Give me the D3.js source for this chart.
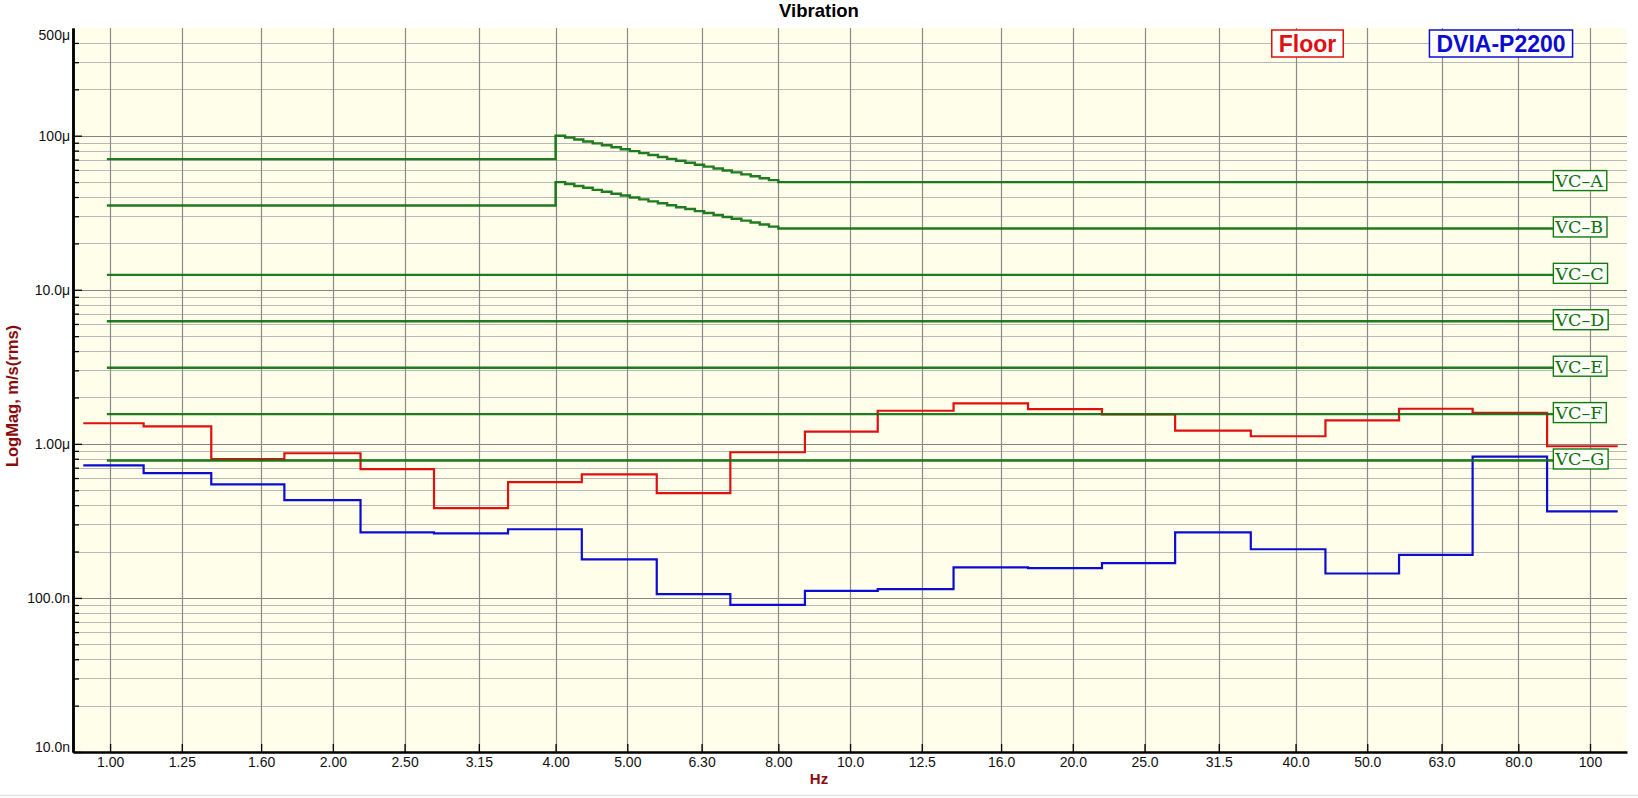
<!DOCTYPE html>
<html>
<head>
<meta charset="utf-8">
<script src="https://cdn.jsdelivr.net/npm/d3@7"></script>
<style>
  body { margin: 0; background: #fff; }
  svg { display: block; font-family: "Liberation Sans", Arial, sans-serif; }
  .axis text { font-size: 14px; fill: #111; }
  .axis path { stroke: #000; stroke-width: 2.5; }
  .axis line { stroke: #000; stroke-width: 1.3; }
  .vc-label { font-family: "DejaVu Serif", serif; font-size: 17.5px; fill: #0f6f0f; }
</style>
</head>
<body>
<svg id="chart" width="1638" height="798"></svg>
<script>
// **** data ****

// 1/3 octave band centres (Hz) and the labels on the axis
var bandFreqs = [1, 1.25, 1.6, 2, 2.5, 3.15, 4, 5, 6.3, 8, 10, 12.5, 16, 20, 25, 31.5, 40, 50, 63, 80, 100];
var bandLabels = ['1.00', '1.25', '1.60', '2.00', '2.50', '3.15', '4.00', '5.00', '6.30', '8.00', '10.0',
    '12.5', '16.0', '20.0', '25.0', '31.5', '40.0', '50.0', '63.0', '80.0', '100'];

// where the measured steps change (Hz), as drawn
var stepEdges = [0.92, 1.11, 1.37, 1.72, 2.18, 2.74, 3.45, 4.34, 5.48, 6.89, 8.69, 10.9,
    13.8, 17.4, 21.9, 27.5, 34.8, 43.9, 55.2, 69.4, 87.5, 109];

// measured levels, um/s rms
var floorVals = [1.36, 1.30, 0.795, 0.869, 0.685, 0.383, 0.564, 0.633, 0.479, 0.882, 1.20,
    1.64, 1.83, 1.68, 1.55, 1.22, 1.12, 1.42, 1.69, 1.59, 0.965];
var dviaVals = [0.724, 0.645, 0.545, 0.431, 0.266, 0.262, 0.279, 0.178, 0.106, 0.0901, 0.111,
    0.114, 0.158, 0.156, 0.168, 0.266, 0.207, 0.144, 0.190, 0.827, 0.364];

// vibration criteria
var vcNames = ['VC\u2013A', 'VC\u2013B', 'VC\u2013C', 'VC\u2013D', 'VC\u2013E', 'VC\u2013F', 'VC\u2013G'];
var vcLevels = [50, 25, 12.5, 6.25, 3.12, 1.56, 0.78];
var vcLow = [70.5, 35.2];   // VC-A, VC-B below 4 Hz
var slopeFreqs = [4.00, 4.12, 4.24, 4.36, 4.49, 4.62, 4.76, 4.90, 5.04, 5.19, 5.34, 5.50, 5.66,
    5.82, 5.99, 6.17, 6.35, 6.54, 6.73, 6.92, 7.13, 7.34, 7.55, 7.77, 8.00];
var vcASlope = [100, 97.2, 94.4, 91.7, 89.1, 86.6, 84.1, 81.7, 79.4, 77.1, 74.9, 72.8, 70.7,
    68.7, 66.7, 64.8, 63.0, 61.2, 59.5, 57.8, 56.1, 54.5, 53.0, 51.5, 50];
var vcBSlope = [50, 48.6, 47.2, 45.9, 44.5, 43.3, 42.0, 40.9, 39.7, 38.6, 37.5, 36.4, 35.4,
    34.3, 33.4, 32.4, 31.5, 30.6, 29.7, 28.9, 28.1, 27.3, 26.5, 25.7, 25];
var vcStart = 0.99, vcEnd = 89.5;

// y ticks
var yTickVals = [500, 100, 10, 1, 0.1, 0.01];
var yTickLabels = ['500\u03bc', '100\u03bc', '10.0\u03bc', '1.00\u03bc', '100.0n', '10.0n'];

// **** scales ****

var plotLeft = 73, plotRight = 1627, plotTop = 28, plotBottom = 752;

var x = d3.scaleLog().domain([0.891, 112.2]).range([plotLeft, plotRight]);
var y = d3.scaleLog().domain([0.01, 500]).range([plotBottom, plotTop]);

var svg = d3.select('#chart');

svg.append('rect')
    .attr('x', plotLeft).attr('y', plotTop)
    .attr('width', plotRight - plotLeft).attr('height', plotBottom - plotTop)
    .style('fill', '#fefeeb');

// bottom window edge
svg.append('line')
    .attr('x1', 0).attr('x2', 1638).attr('y1', 795.5).attr('y2', 795.5)
    .style('stroke', '#e2e2e2').style('stroke-width', 1.5);

// **** grid ****

var allY = y.ticks().filter(function (d) { return d < 500; });
var isDecade = function (d) { return Math.abs(Math.log10(d) - Math.round(Math.log10(d))) < 1e-6; };

svg.append('g').selectAll('line')
    .data(allY).enter()
    .append('line')
    .attr('x1', plotLeft).attr('x2', plotRight)
    .attr('y1', function (d) { return Math.round(y(d)) + 0.5; })
    .attr('y2', function (d) { return Math.round(y(d)) + 0.5; })
    .style('stroke', function (d) { return isDecade(d) ? '#858585' : '#b9b9b9'; })
    .style('stroke-width', 1.2);

svg.append('g').selectAll('line')
    .data(bandFreqs).enter()
    .append('line')
    .attr('x1', function (d) { return Math.round(x(d)) + 0.5; })
    .attr('x2', function (d) { return Math.round(x(d)) + 0.5; })
    .attr('y1', plotTop).attr('y2', plotBottom)
    .style('stroke', '#8a8a8a')
    .style('stroke-width', 1.2);

// **** measured steps ****

function stepPoints(vals) {
    var pts = vals.map(function (v, i) { return [stepEdges[i], v]; });
    pts.push([stepEdges[stepEdges.length - 1], vals[vals.length - 1]]);
    return pts;
}

var line = d3.line()
    .x(function (d) { return x(d[0]); })
    .y(function (d) { return y(d[1]); })
    .curve(d3.curveStepAfter);

svg.append('path')
    .attr('d', line(stepPoints(floorVals)))
    .style('fill', 'none').style('stroke', '#e01010').style('stroke-width', 2.2);

svg.append('path')
    .attr('d', line(stepPoints(dviaVals)))
    .style('fill', 'none').style('stroke', '#0c0cd0').style('stroke-width', 2.2);

// **** VC curves ****

vcLevels.forEach(function (level, i) {
    var pts;
    if (i < 2) {
        var slope = i === 0 ? vcASlope : vcBSlope;
        pts = [[vcStart, vcLow[i]]];
        slopeFreqs.forEach(function (f, k) { pts.push([f, slope[k]]); });
        pts.push([vcEnd, level]);
    } else {
        pts = [[vcStart, level], [vcEnd, level]];
    }
    svg.append('path')
        .attr('d', line(pts))
        .style('fill', 'none').style('stroke', 'rgba(14,112,14,0.92)').style('stroke-width', 2.4);

    var g = svg.append('g')
        .attr('transform', 'translate(' + [x(vcEnd) - 1, y(level) - 1.5] + ')');
    var box = g.append('rect')
        .attr('y', -10).attr('height', 20)
        .style('fill', '#fdfff8').style('stroke', '#137a13').style('stroke-width', 1.4);
    var t = g.append('text')
        .attr('class', 'vc-label')
        .attr('x', 2).attr('y', 6.5)
        .text(vcNames[i]);
    box.attr('width', t.node().getComputedTextLength() + 6);
});

// **** axes ****

svg.append('g').attr('class', 'x axis')
    .attr('transform', 'translate(0,' + plotBottom + ')')
    .call(d3.axisBottom(x).tickValues(bandFreqs)
        .tickFormat(function (d, i) { return bandLabels[i]; })
        .tickSize(-8).tickSizeOuter(0).tickPadding(5));

var minorY = allY.filter(function (d) { return !isDecade(d); });
var majorY = allY.filter(isDecade);

svg.append('g').attr('class', 'y axis')
    .attr('transform', 'translate(' + plotLeft + ',0)')
    .call(d3.axisRight(y).tickValues(minorY).tickFormat('').tickSize(6).tickSizeOuter(0));

svg.append('g').attr('class', 'y axis')
    .attr('transform', 'translate(' + plotLeft + ',0)')
    .call(d3.axisRight(y).tickValues(majorY).tickFormat('').tickSize(9).tickSizeOuter(0));

svg.append('g').selectAll('text')
    .data(yTickVals).enter()
    .append('text')
    .attr('x', 70)
    .attr('y', function (d) { return Math.min(Math.max(y(d), plotTop + 7), plotBottom - 5); })
    .attr('dy', '0.35em')
    .style('text-anchor', 'end')
    .style('font-size', '14px')
    .style('fill', '#111')
    .text(function (d, i) { return yTickLabels[i]; });

// **** titles and legend ****

svg.append('text')
    .attr('x', 819).attr('y', 17)
    .style('text-anchor', 'middle').style('font-weight', 'bold').style('font-size', '18.5px')
    .text('Vibration');

svg.append('text')
    .attr('transform', 'translate(18,396) rotate(-90)')
    .style('text-anchor', 'middle').style('font-weight', 'bold').style('font-size', '16.5px')
    .style('fill', '#8b0a0a')
    .text('LogMag, m/s(rms)');

svg.append('text')
    .attr('x', 819).attr('y', 784)
    .style('text-anchor', 'middle').style('font-weight', 'bold').style('font-size', '15px')
    .style('fill', '#8b0a0a')
    .text('Hz');

function legendBox(label, cx, color) {
    var g = svg.append('g').attr('transform', 'translate(' + cx + ',43.5)');
    var r = g.append('rect').attr('y', -13.5).attr('height', 27)
        .style('fill', '#fff').style('stroke', color).style('stroke-width', 1.5);
    var t = g.append('text')
        .attr('y', 8)
        .style('text-anchor', 'middle').style('font-weight', 'bold').style('font-size', '23px')
        .style('fill', color)
        .text(label);
    var w = t.node().getComputedTextLength() + 14;
    r.attr('x', -w / 2).attr('width', w);
}

legendBox('Floor', 1307.5, '#e01010');
legendBox('DVIA-P2200', 1501, '#0c0cd0');
</script>
</body>
</html>
